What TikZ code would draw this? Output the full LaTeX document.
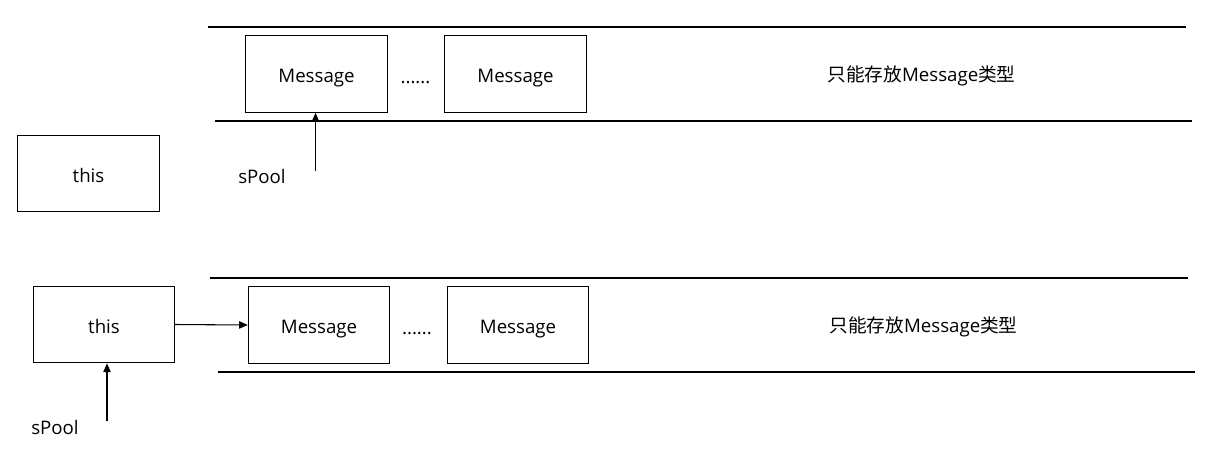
\documentclass[tikz,border=0pt]{standalone}
\usepackage{fontspec}
\setmainfont{Open Sans}
\newfontfamily\cjk{Noto Sans CJK SC}
\usetikzlibrary{arrows.meta}
\usetikzlibrary{calc}
\tikzset{>={Triangle[length=6.5pt,width=5.5pt]}}
\tikzset{
  msgbox/.style={draw, line width=0.8pt, inner sep=0pt, minimum width=106pt, minimum height=57.5pt,
    text height=13pt, text depth=0pt},
  rail/.style={line width=0.8pt},
  link/.style={->, line width=0.8pt}
}

\begin{document}
\begin{tikzpicture}[x=0.75pt, y=-0.75pt, font=\fontsize{14}{16}\selectfont]
  \useasboundingbox (0,0) rectangle (1222,451);
  % upper picture: sPool points at the first message
  \draw [rail] (208,27) coordinate (ta) -- (1186,27) coordinate (tb)
  (215,121) coordinate (tc) -- (1192,121) coordinate (td);
  \node [msgbox] (thisA) at (88.5,173.5) {this};
  \node [msgbox] (msgA) at (316.5,74) {Message};
  \node [anchor=base] (dotsA) at (415.5,83) {......};
  \node [msgbox] (msgB) at (515.5,74) {Message};
  \node (typeA) at (921.5,76) {{\cjk 只能存放}Message{\cjk 类型}};
  \node (poolA) at (262,176) {sPool};
  \coordinate (pa) at (315.5,171);
  \draw [link] (pa) -- (pa |- msgA.south);
  % lower picture: this is linked in front of the pool
  \draw [rail] (210,278) coordinate (ba) -- (1188,278) coordinate (bb)
  (218,372) coordinate (bc) -- (1195,372) coordinate (bd);
  \node [msgbox] (thisB) at (104,324.5) {this};
  \node [msgbox] (msgC) at (319,325) {Message};
  \node [anchor=base] (dotsB) at (417,334) {......};
  \node [msgbox] (msgD) at (518,325) {Message};
  \node (typeB) at (923.5,327) {{\cjk 只能存放}Message{\cjk 类型}};
  \node (poolB) at (55,427) {sPool};
  \coordinate (pb) at (107,421);
  \draw [link] (pb) -- (pb |- thisB.south);
  \draw [link] (thisB.east) -- (msgC.west);
\end{tikzpicture}
\end{document}
